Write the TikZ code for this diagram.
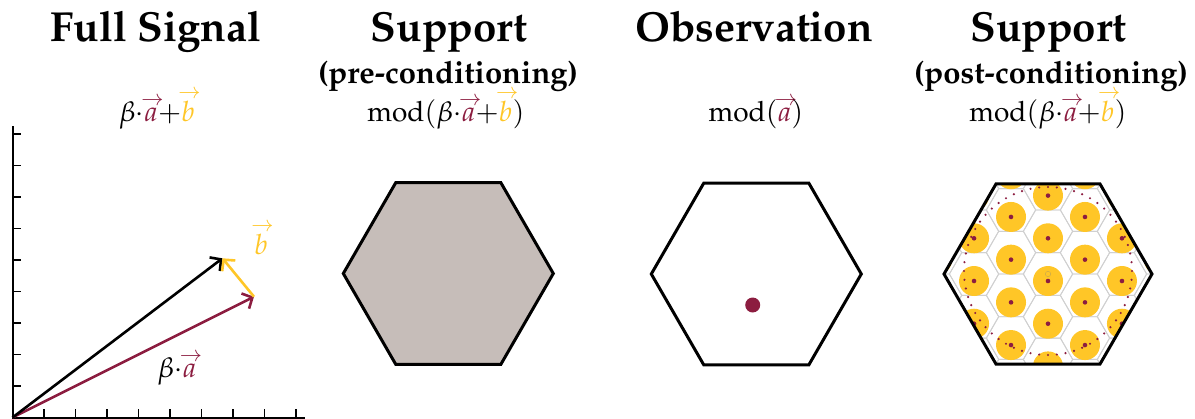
\documentclass[tikz,border=0pt]{standalone}
\usepackage[T1]{fontenc}
\usepackage{mathpazo}
\usepackage{amsmath}
\usepackage{xcolor}
\usetikzlibrary{arrows.meta}
\definecolor{asumaroon}{HTML}{8C1D40}
\definecolor{asugold}{HTML}{FFC627}
\definecolor{hexfill}{RGB}{198,189,185}
\definecolor{gridgray}{RGB}{208,208,208}
\tikzset{
  titletext/.style={anchor=base, font=\fontsize{42}{46}\selectfont\bfseries, inner sep=0pt},
  subtext/.style={anchor=base, font=\fontsize{31}{34}\selectfont\bfseries, inner sep=0pt},
  formula/.style={anchor=base, font=\fontsize{28}{30}\selectfont, inner sep=0pt},
  bighex/.style={line width=3pt, line join=miter},
  vecarrow/.style={line width=2.6pt, -{Straight Barb[length=8pt,width=17pt,line width=2.6pt]}},
  axisline/.style={line width=2pt},
  tickline/.style={line width=1.5pt},
  gridline/.style={draw=gridgray, line width=0.9pt},
}
\newcommand{\myvec}[2]{\mathord{\mbox{\ooalign{$#1$\cr\hidewidth\kern0.1em\raisebox{#2}{$\scriptstyle\rightarrow$}\hidewidth\cr}}}}
\newcommand{\va}{\textcolor{asumaroon}{\myvec{a}{0.56em}}}
\newcommand{\vb}{\textcolor{asugold}{\myvec{b}{0.79em}}}
\begin{document}
\begin{tikzpicture}[x=1pt, y=-1pt]
\useasboundingbox (0,0) rectangle (1195,418);

% ---- titles ----
\node[titletext] (t1) at (156,41) {Full Signal};
\node[titletext] (t2) at (449,41) {Support};
\node[subtext] (s2) at (448,83) {(pre-conditioning)};
\node[titletext] (t3) at (754,41) {Observation};
\node[titletext] (t4) at (1048.5,41) {Support};
\node[subtext] (s4) at (1051,83) {(post-conditioning)};
\node[formula] (f1) at (157,121) {$\beta{\cdot}\va{+}\vb$};
\node[formula] (f2) at (446,121) {$\mathrm{mod}(\beta{\cdot}\va{+}\vb)$};
\node[formula] (f3) at (756,121) {$\mathrm{mod}(\va)$};
\node[formula] (f4) at (1048,121) {$\mathrm{mod}(\beta{\cdot}\va{+}\vb)$};

% ---- panel 1: axes and vectors ----
\coordinate (O) at (12.5,417.5);
\coordinate (ytop) at (12.5,126);
\coordinate (xend) at (305,417.5);
\draw[axisline] (ytop) -- (O) -- (xend);
\foreach \k in {1,...,9}{
  \draw[tickline] (12.5,417.5-31.5*\k) -- (21,417.5-31.5*\k);
  \draw[tickline] (12.5+31.5*\k,417.5) -- (12.5+31.5*\k,409);
}
\coordinate (A) at (254,296.7);
\coordinate (S) at (222.5,258.3);
\draw[vecarrow, asumaroon] (O) -- (A);
\draw[vecarrow, black] (O) -- (S);
\draw[vecarrow, asugold] (A) -- (S);
\node[formula] (lb) at (261,254) {$\vb$};
\node[formula] (la) at (177,377.5) {$\beta{\cdot}\va$};

% ---- panel 2 ----
\draw[bighex, fill=hexfill, shift={(448.3,273.5)}]
  (0:105pt) -- (60:105pt) -- (120:105pt) -- (180:105pt) -- (240:105pt) -- (300:105pt) -- cycle;

% ---- panel 3 ----
\draw[bighex, shift={(756.3,274)}]
  (0:105pt) -- (60:105pt) -- (120:105pt) -- (180:105pt) -- (240:105pt) -- (300:105pt) -- cycle;
\fill[asumaroon] (752.7,305) circle[radius=7.5pt];

% ---- panel 4 ----
\begin{scope}
  \clip[shift={(1048,274)}]
    (0:104pt) -- (60:104pt) -- (120:104pt) -- (180:104pt) -- (240:104pt) -- (300:104pt) -- cycle;
  \foreach \i in {-3,...,3}{
    \foreach \j in {-4,...,4}{
      \pgfmathsetmacro\cx{1048+36.98*\i}
      \pgfmathsetmacro\cy{274+42.7*\j+21.35*\i}
      \draw[gridline, shift={(\cx,\cy)}]
        (0:24.65pt) -- (60:24.65pt) -- (120:24.65pt) -- (180:24.65pt) -- (240:24.65pt) -- (300:24.65pt) -- cycle;
    }
  }
  \foreach \i in {-3,...,3}{
    \foreach \j in {-4,...,4}{
      \pgfmathsetmacro\cx{1048+36.98*\i}
      \pgfmathsetmacro\cy{281+42.7*\j+21.35*\i}
      \fill[asugold] (\cx,\cy) circle[radius=15pt];
      \fill[asumaroon] (\cx,\cy) circle[radius=2.3pt];
    }
  }
  \draw[asugold!60!gray, line width=0.5pt] (1048,274) circle[radius=2.7pt];
  \foreach \k in {0,...,59}{
    \fill[asumaroon, shift={(1048,271)}] (\k*6:84pt) circle[radius=1.2pt];
  }
\end{scope}
\draw[bighex, shift={(1048,274)}]
  (0:104pt) -- (60:104pt) -- (120:104pt) -- (180:104pt) -- (240:104pt) -- (300:104pt) -- cycle;
\end{tikzpicture}
\end{document}
